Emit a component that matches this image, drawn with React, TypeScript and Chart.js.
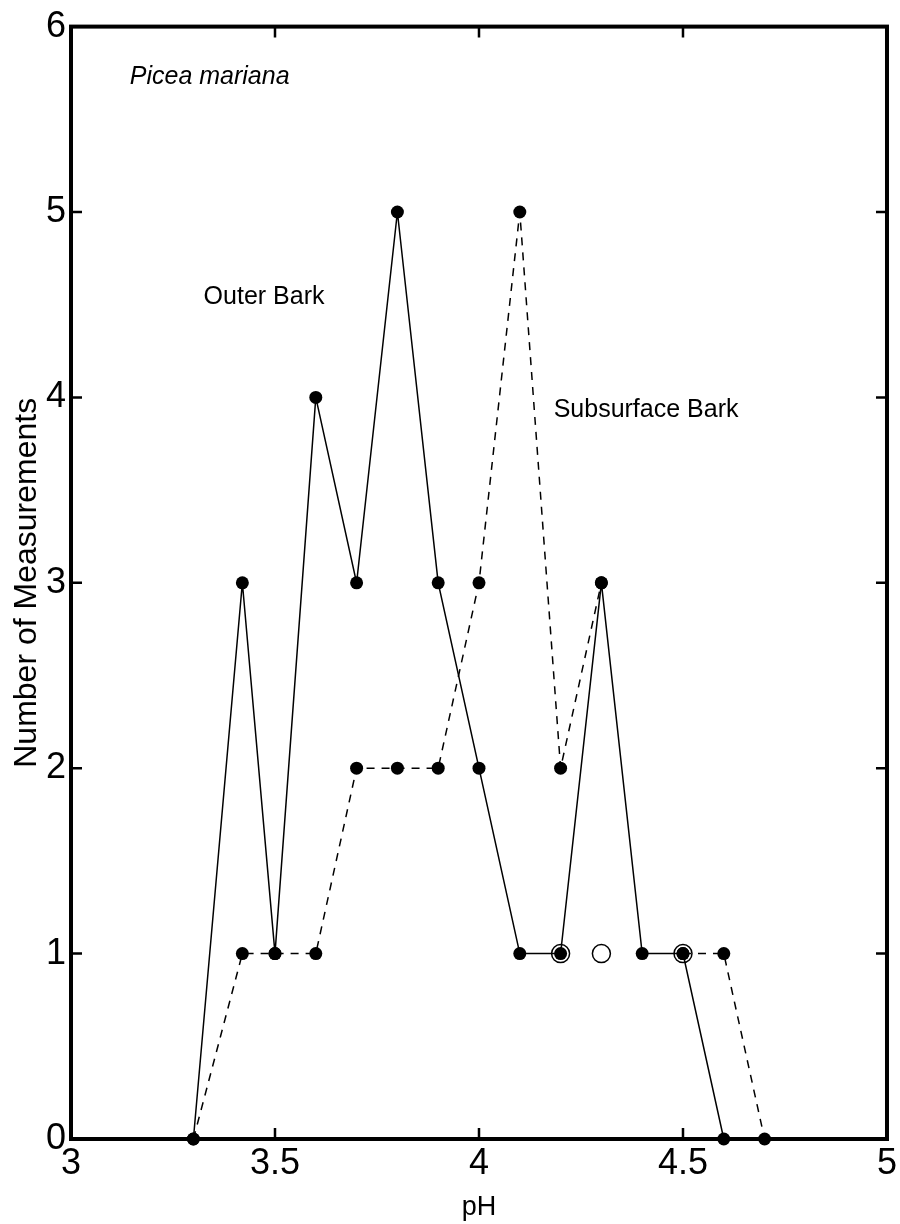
import { useEffect, useRef } from "react";
import { Chart, registerables } from "chart.js";

Chart.register(...registerables);

// pH values and number of measurements
const phOuter = [3.3, 3.42, 3.5, 3.6, 3.7, 3.8, 3.9, 4.0, 4.1, 4.2, 4.3, 4.4, 4.5, 4.6];
const countOuter = [0, 3, 1, 4, 3, 5, 3, 2, 1, 1, 3, 1, 1, 0];

const phSub = [3.3, 3.42, 3.5, 3.6, 3.7, 3.8, 3.9, 4.0, 4.1, 4.2, 4.3, 4.4, 4.5, 4.6, 4.7];
const countSub = [0, 1, 1, 1, 2, 2, 2, 3, 5, 2, 3, null, 1, 1, 0];

const phOpen = [4.2, 4.3, 4.5];
const countOpen = [1, 1, 1];

const xTickValues = [3, 3.5, 4, 4.5, 5];
const yTickValues = [0, 1, 2, 3, 4, 5, 6];

const labels = [
  { text: "Picea mariana", x: 3.144, y: 5.73, italic: true },
  { text: "Outer Bark", x: 3.325, y: 4.54, italic: false },
  { text: "Subsurface Bark", x: 4.183, y: 3.93, italic: false },
];

const FONT = "'Liberation Sans', Arial, Helvetica, sans-serif";

const toPts = (xs: number[], ys: (number | null)[]) => xs.map((x, i) => ({ x, y: ys[i] }));

const framePlugin = {
  id: "frame",
  beforeDatasetsDraw(chart: any) {
    const { ctx, chartArea: a, scales } = chart;
    const xs = scales.x;
    const ys = scales.y;
    ctx.save();
    ctx.strokeStyle = "#000";
    ctx.lineWidth = 4;
    ctx.strokeRect(a.left, a.top, a.right - a.left, a.bottom - a.top);
    ctx.lineWidth = 2.5;
    const len = 11;
    ctx.beginPath();
    xTickValues.forEach((v) => {
      const px = xs.getPixelForValue(v);
      ctx.moveTo(px, a.bottom);
      ctx.lineTo(px, a.bottom - len);
      ctx.moveTo(px, a.top);
      ctx.lineTo(px, a.top + len);
    });
    yTickValues.forEach((v) => {
      const py = ys.getPixelForValue(v);
      ctx.moveTo(a.left, py);
      ctx.lineTo(a.left + len, py);
      ctx.moveTo(a.right, py);
      ctx.lineTo(a.right - len, py);
    });
    ctx.stroke();
    ctx.restore();
  },
  afterDraw(chart: any) {
    const { ctx, scales } = chart;
    ctx.save();
    ctx.fillStyle = "#000";
    ctx.textBaseline = "middle";
    ctx.textAlign = "left";
    labels.forEach((l) => {
      ctx.font = `${l.italic ? "italic " : ""}25px ${FONT}`;
      ctx.fillText(l.text, scales.x.getPixelForValue(l.x), scales.y.getPixelForValue(l.y));
    });
    ctx.restore();
  },
};

export default function App() {
  const ref = useRef<HTMLCanvasElement>(null);
  useEffect(() => {
    document.body.style.margin = "0";
    const chart = new Chart(ref.current!, {
      type: "line",
      data: {
        datasets: [
          {
            label: "Outer Bark",
            data: toPts(phOuter, countOuter),
            borderColor: "#000",
            backgroundColor: "#000",
            borderWidth: 1.5,
            pointRadius: 6.5,
            pointBackgroundColor: "#000",
            pointBorderWidth: 0,
            tension: 0,
            clip: false,
            order: 2,
          },
          {
            label: "Subsurface Bark",
            data: toPts(phSub, countSub),
            borderColor: "#000",
            backgroundColor: "#000",
            borderWidth: 1.5,
            borderDash: [8, 7],
            pointRadius: 6.5,
            pointBackgroundColor: "#000",
            pointBorderWidth: 0,
            spanGaps: false,
            tension: 0,
            clip: false,
            order: 1,
          },
          {
            label: "Open",
            data: toPts(phOpen, countOpen),
            showLine: false,
            pointRadius: 9,
            pointBorderWidth: 1.5,
            pointBorderColor: "#000",
            pointBackgroundColor: "rgba(0,0,0,0)",
            clip: false,
            order: 0,
          },
        ],
      },
      plugins: [framePlugin],
      options: {
        responsive: false,
        animation: false,
        events: [],
        layout: { padding: { left: 0, right: 13, top: 24, bottom: 0 } },
        plugins: { legend: { display: false }, tooltip: { enabled: false } },
        scales: {
          x: {
            type: "linear",
            min: 3,
            max: 5,
            afterBuildTicks: (s: any) => {
              s.ticks = xTickValues.map((v) => ({ value: v }));
            },
            afterFit: (s: any) => {
              s.height = 85;
            },
            ticks: {
              color: "#000",
              font: { family: FONT, size: 36 },
              padding: 3,
              maxRotation: 0,
              callback: (v: any) => String(v),
            },
            grid: { display: false, drawTicks: false },
            border: { display: false },
            title: {
              display: true,
              text: "pH",
              color: "#000",
              font: { family: FONT, size: 27 },
              padding: { top: 0, bottom: 0 },
            },
          },
          y: {
            type: "linear",
            min: 0,
            max: 6,
            afterBuildTicks: (s: any) => {
              s.ticks = yTickValues.map((v) => ({ value: v }));
            },
            afterFit: (s: any) => {
              s.width = 71;
            },
            ticks: {
              color: "#000",
              font: { family: FONT, size: 36 },
              padding: 5,
              callback: (v: any) => String(v),
            },
            grid: { display: false, drawTicks: false },
            border: { display: false },
            title: {
              display: true,
              text: "Number of Measurements",
              color: "#000",
              font: { family: FONT, size: 32 },
              padding: { top: 8, bottom: 0 },
            },
          },
        },
      },
    } as any);
    return () => chart.destroy();
  }, []);
  return (
    <div style={{ width: 900, height: 1224 }}>
      <canvas ref={ref} width={900} height={1224} style={{ display: "block" }} />
    </div>
  );
}
